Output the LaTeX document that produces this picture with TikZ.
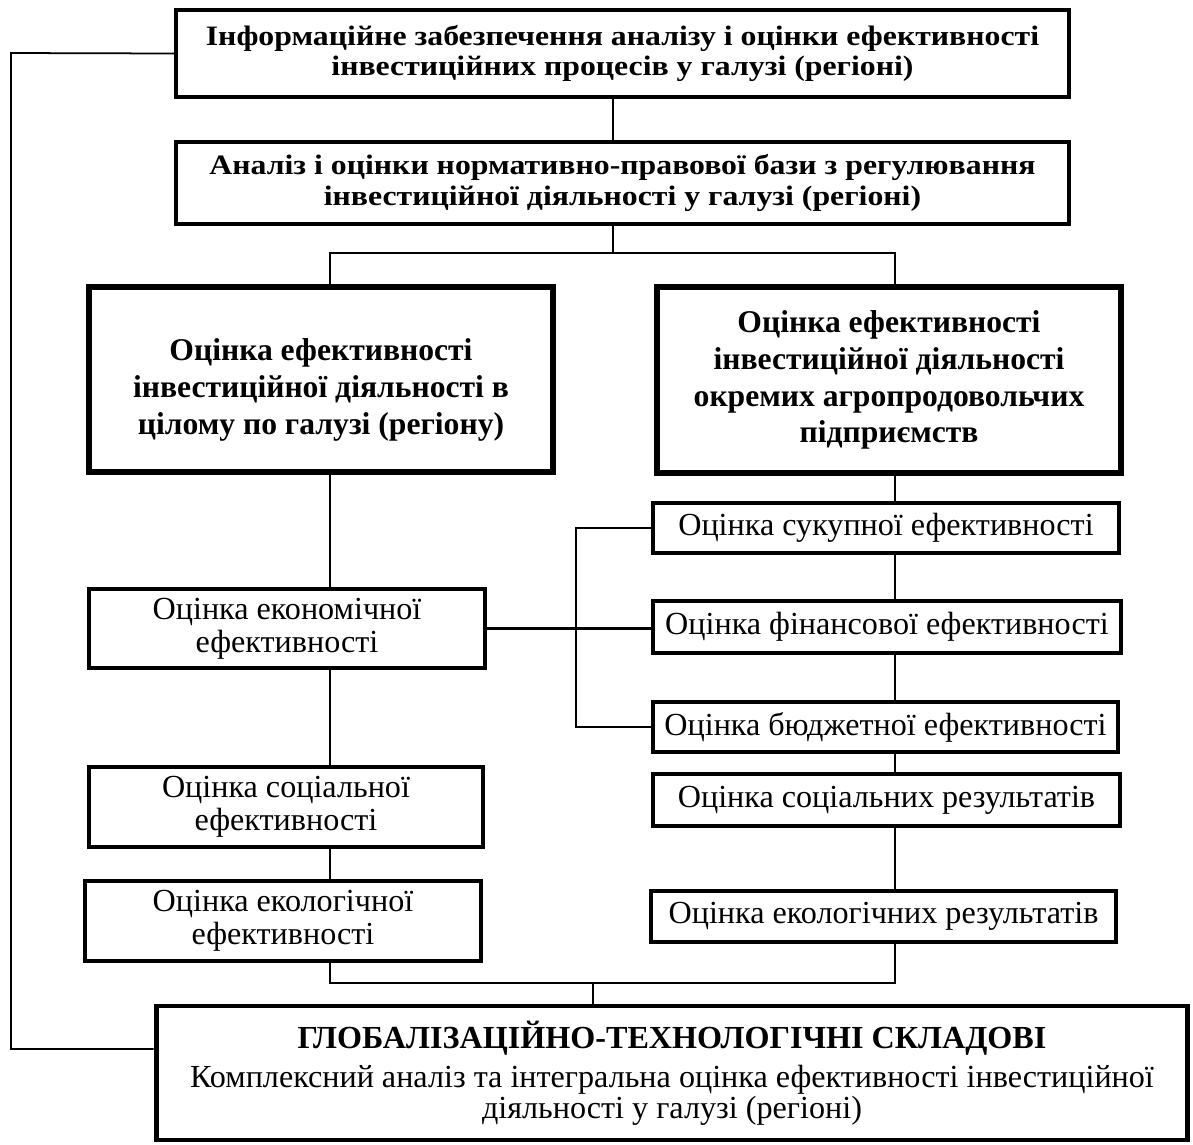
\documentclass[tikz,border=0pt]{standalone}
\usepackage{fontspec}
\setmainfont{Liberation Serif}
\newfontfamily\headfont[FakeStretch=1.13]{Liberation Serif}

\begin{document}
\begin{tikzpicture}[x=0.02cm, y=-0.02cm,
    box/.style={draw, fill=white, inner sep=0pt, align=center},
    headbox/.style={box, line width=2.6pt, font=\headfont\bfseries\fontsize{16}{17.6}\selectfont},
    bigbox/.style={box, line width=3.2pt, font=\bfseries\fontsize{18}{21}\selectfont},
    midbox/.style={box, line width=2.2pt, font=\fontsize{18.3}{19}\selectfont},
    smallbox/.style={box, line width=1.8pt, font=\fontsize{18.3}{19}\selectfont},
    link/.style={line width=1.6pt},
  ]
    \useasboundingbox (0,0) rectangle (1193,1144);

    % columns of the connectors
    \coordinate (fork) at (613, 253);
    \coordinate (lcol) at (330, 253);
    \coordinate (rcol) at (895, 253);
    \coordinate (brk) at (576, 0);
    \coordinate (join) at (593, 983);
    \coordinate (fbtop) at (11, 53);
    \coordinate (fbbot) at (11, 1049);

    \node[headbox, minimum width=17.86cm, minimum height=1.74cm] (info) at (622.5, 53.5)
      {Інформаційне забезпечення аналізу і оцінки ефективності\\ інвестиційних процесів у галузі (регіоні)};
    \node[headbox, minimum width=17.86cm, minimum height=1.64cm] (norm) at (622.5, 183)
      {Аналіз і оцінки нормативно-правової бази з регулювання\\ інвестиційної діяльності у галузі (регіоні)};

    \node[bigbox, minimum width=9.28cm, minimum height=3.70cm] (whole) at (321, 379.5)
      {\rule{0pt}{24pt}Оцінка ефективності\\ інвестиційної діяльності в\\ цілому по галузі (регіону)};
    \node[bigbox, minimum width=9.28cm, minimum height=3.72cm] (firms) at (889, 380)
      {Оцінка ефективності\\ інвестиційної діяльності\\ окремих агропродовольчих\\ підприємств};

    \node[midbox, minimum width=7.92cm, minimum height=1.58cm] (econ) at (287, 628.5)
      {Оцінка економічної\\ ефективності};
    \node[midbox, minimum width=7.88cm, minimum height=1.60cm] (soc) at (286, 807)
      {Оцінка соціальної\\ ефективності};
    \node[midbox, minimum width=7.92cm, minimum height=1.60cm] (ecol) at (283, 921)
      {Оцінка екологічної\\ ефективності};

    \node[smallbox, minimum width=9.32cm, minimum height=1.00cm] (total) at (886, 528)
      {Оцінка сукупної ефективності};
    \node[smallbox, minimum width=9.36cm, minimum height=1.04cm] (fin) at (887, 627)
      {Оцінка фінансової ефективності};
    \node[smallbox, minimum width=9.30cm, minimum height=1.00cm] (budget) at (885.5, 727)
      {Оцінка бюджетної ефективності};
    \node[smallbox, minimum width=9.34cm, minimum height=1.04cm] (socres) at (886.5, 800)
      {Оцінка соціальних результатів};
    \node[smallbox, minimum width=9.30cm, minimum height=1.02cm] (ecores) at (883.5, 916.5)
      {Оцінка екологічних результатів};

    \node[box, line width=2.8pt, minimum width=20.64cm, minimum height=2.68cm,
      font=\fontsize{18.3}{17.5}\selectfont] (global) at (672, 1073)
      {{\bfseries ГЛОБАЛІЗАЦІЙНО-ТЕХНОЛОГІЧНІ СКЛАДОВІ}\\[5pt]
       Комплексний аналіз та інтегральна оцінка ефективності інвестиційної\\
       діяльності у галузі (регіоні)};

    % top chain
    \draw[link] (info.south -| fork) -- (norm.north -| fork);
    \draw[link] (norm.south -| fork) -- (fork);
    \draw[link] (whole.north -| lcol) -- (lcol) -- (rcol) -- (firms.north -| rcol);

    % left column
    \draw[link] (whole.south -| lcol) -- (econ.north -| lcol);
    \draw[link] (econ.south -| lcol) -- (soc.north -| lcol);
    \draw[link] (soc.south -| lcol) -- (ecol.north -| lcol);

    % right column
    \draw[link] (firms.south -| rcol) -- (total.north -| rcol);
    \draw[link] (total.south -| rcol) -- (fin.north -| rcol);
    \draw[link] (fin.south -| rcol) -- (budget.north -| rcol);
    \draw[link] (budget.south -| rcol) -- (socres.north -| rcol);
    \draw[link] (socres.south -| rcol) -- (ecores.north -| rcol);

    % cross links
    \draw[link] (econ.east) -- (econ.east -| fin.west);
    \draw[link] (total.west) -- (total.west -| brk) -- (budget.west -| brk) -- (budget.west);

    % into the bottom box
    \draw[link] (ecol.south -| lcol) |- (join) -| (ecores.south -| rcol);
    \draw[link] (join) -- (global.north -| join);

    % feedback
    \draw[line width=1pt] (info.west) -- (fbtop) -- (fbbot) -- (fbbot -| global.west);

  \end{tikzpicture}
\end{document}
